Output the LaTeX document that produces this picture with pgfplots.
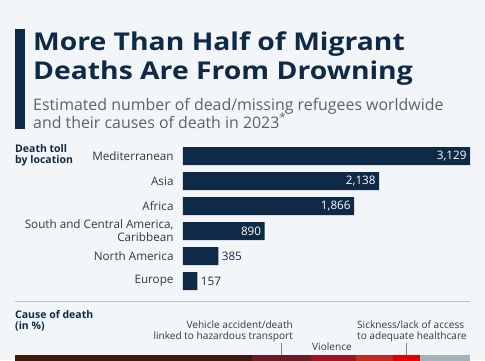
\documentclass[border=0pt]{standalone}
\usepackage{fontspec}
\setmainfont{Open Sans}
\newfontfamily\titlefont[FakeStretch=1.155]{Open Sans}
\usepackage{pgfplots}
\pgfplotsset{compat=1.18}
\definecolor{bg}{HTML}{F3F6F9}
\definecolor{navy}{HTML}{0F2A46}
\definecolor{subgray}{HTML}{58636E}
\definecolor{labgray}{HTML}{2F3943}
\definecolor{sepgray}{HTML}{B9C1C9}
\definecolor{cA}{HTML}{3D1A0C}
\definecolor{cB}{HTML}{6E1A26}
\definecolor{cC}{HTML}{A0161F}
\definecolor{cD}{HTML}{C2291F}
\definecolor{cE}{HTML}{E30000}
\definecolor{cF}{HTML}{A4B2B9}
\begin{document}
\begin{tikzpicture}[x=1pt,y=1pt]
\clip (0,0) rectangle (485,360);
\fill[bg] (0,0) rectangle (485,360);
% accent bar
\fill[navy] (15,231) rectangle (25,331);
% title
\node[anchor=base west, inner sep=0pt, text=navy, font=\titlefont\fontsize{24.5}{28}\selectfont\bfseries] at (33,310) {More Than Half of Migrant};
\node[anchor=base west, inner sep=0pt, text=navy, font=\titlefont\fontsize{24.5}{28}\selectfont\bfseries] at (33,281) {Deaths Are From Drowning};
\node[anchor=base west, inner sep=0pt, text=subgray, font=\fontsize{15.9}{18}\selectfont] at (33,250) {Estimated number of dead/missing refugees worldwide};
\node[anchor=base west, inner sep=0pt, text=subgray, font=\fontsize{15.9}{18}\selectfont] at (33,232) {and their causes of death in 2023\textsuperscript{*}};
% section labels
\node[anchor=base west, inner sep=0pt, text=navy, font=\fontsize{10.5}{12}\selectfont\bfseries] at (15,208) {Death toll};
\node[anchor=base west, inner sep=0pt, text=navy, font=\fontsize{10.5}{12}\selectfont\bfseries] at (15,197) {by location};
\draw[sepgray, line width=1pt] (15,59) -- (470,59);
\node[anchor=base west, inner sep=0pt, text=navy, font=\fontsize{10.5}{12}\selectfont\bfseries] at (15,42) {Cause of death};
\node[anchor=base west, inner sep=0pt, text=navy, font=\fontsize{10.5}{12}\selectfont\bfseries] at (15,31) {(in \%)};
% cause labels
\node[anchor=base east, inner sep=0pt, text=labgray, font=\fontsize{10.1}{12}\selectfont] at (293,32) {Vehicle accident/death};
\node[anchor=base east, inner sep=0pt, text=labgray, font=\fontsize{10.1}{12}\selectfont] at (293,21) {linked to hazardous transport};
\node[anchor=base west, inner sep=0pt, text=labgray, font=\fontsize{10.1}{12}\selectfont] at (312,10) {Violence};
\node[anchor=base west, inner sep=0pt, text=labgray, font=\fontsize{10.1}{12}\selectfont] at (357,32) {Sickness/lack of access};
\node[anchor=base west, inner sep=0pt, text=labgray, font=\fontsize{10.1}{12}\selectfont] at (357,21) {to adequate healthcare};
% location bars
\begin{axis}[at={(183pt,216.5pt)}, anchor=north west, scale only axis,
  width=287pt, height=150pt, xmin=0, xmax=3129, ymin=-0.5, ymax=5.5,
  y dir=reverse, xbar, bar width=18pt, bar shift=0pt, clip=false,
  axis line style={draw=none}, tick style={draw=none}, xtick=\empty,
  ytick={0,1,2,3,4,5},
  yticklabels={Mediterranean, Asia, Africa, {South and Central America,\\Caribbean}, North America, Europe},
  yticklabel style={align=right, text=labgray, font=\fontsize{11.7}{13}\selectfont, inner xsep=5pt},
  /pgf/number format/assume math mode=true,
  /pgf/number format/1000 sep={,},
  nodes near coords, point meta=x]
\addplot[fill=navy, draw=none, nodes near coords style={anchor=east, text=white, font=\fontsize{11.7}{13}\selectfont}]
  coordinates {(3129,0) (2138,1) (1866,2) (890,3)};
\addplot[fill=navy, draw=none, nodes near coords style={anchor=west, text=navy, font=\fontsize{11.7}{13}\selectfont}]
  coordinates {(385,4) (157,5)};
\end{axis}
% cause of death stacked bar
\begin{axis}[at={(15pt,5pt)}, anchor=north west, scale only axis,
  width=455pt, height=30pt, xmin=0, xmax=100, ymin=-1, ymax=1,
  xbar stacked, bar width=30pt, clip=false, hide axis]
\addplot[fill=cA, draw=none] coordinates {(52.1,0)};
\addplot[fill=cB, draw=none] coordinates {(13.0,0)};
\addplot[fill=cC, draw=none] coordinates {(9.9,0)};
\addplot[fill=cD, draw=none] coordinates {(8.1,0)};
\addplot[fill=cE, draw=none] coordinates {(5.9,0)};
\addplot[fill=cF, draw=none] coordinates {(11.0,0)};
\draw[gray, line width=0.6pt] (axis cs:58.6,1) -- ++(0pt,12pt);
\draw[gray, line width=0.6pt] (axis cs:86.05,1) -- ++(0pt,12pt);
\fill[white] (axis cs:58.6,1) circle (1.3pt);
\fill[white] (axis cs:86.05,1) circle (1.3pt);
\end{axis}
\end{tikzpicture}
\end{document}
